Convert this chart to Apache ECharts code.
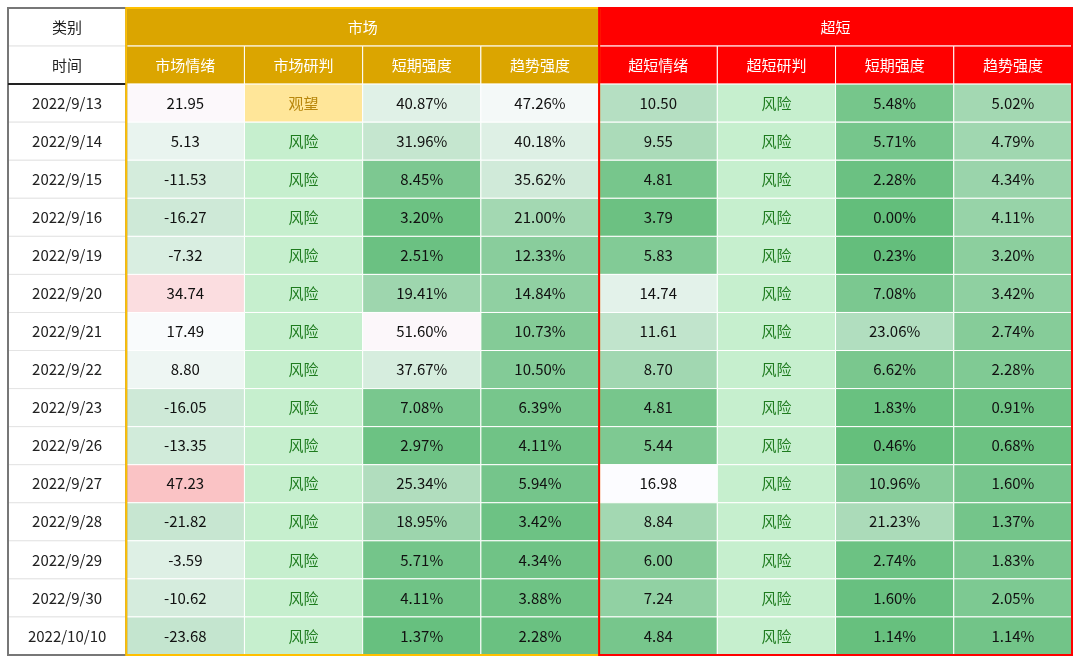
<!DOCTYPE html>
<html lang="zh">
<head>
    <meta charset="UTF-8">
    <title>市场 / 超短</title>
    <script src="https://cdn.jsdelivr.net/npm/echarts@6/dist/echarts.min.js"></script>
    <style>body{margin:0;background:#fff}</style>
</head>
<body>
    <div id="main" style="width:1080px;height:663px;"></div>
    <script type="text/javascript">
        // 数据
        var dates = ['2022/9/13','2022/9/14','2022/9/15','2022/9/16','2022/9/19','2022/9/20','2022/9/21','2022/9/22','2022/9/23','2022/9/26','2022/9/27','2022/9/28','2022/9/29','2022/9/30','2022/10/10'];
        var mktSent = [21.95,5.13,-11.53,-16.27,-7.32,34.74,17.49,8.80,-16.05,-13.35,47.23,-21.82,-3.59,-10.62,-23.68];
        var mktJudge = ['观望','风险','风险','风险','风险','风险','风险','风险','风险','风险','风险','风险','风险','风险','风险'];
        var mktShort = [40.87,31.96,8.45,3.20,2.51,19.41,51.60,37.67,7.08,2.97,25.34,18.95,5.71,4.11,1.37];
        var mktTrend = [47.26,40.18,35.62,21.00,12.33,14.84,10.73,10.50,6.39,4.11,5.94,3.42,4.34,3.88,2.28];
        var ssSent = [10.50,9.55,4.81,3.79,5.83,14.74,11.61,8.70,4.81,5.44,16.98,8.84,6.00,7.24,4.84];
        var ssJudge = ['风险','风险','风险','风险','风险','风险','风险','风险','风险','风险','风险','风险','风险','风险','风险'];
        var ssShort = [5.48,5.71,2.28,0.00,0.23,7.08,23.06,6.62,1.83,0.46,10.96,21.23,2.74,1.60,1.14];
        var ssTrend = [5.02,4.79,4.34,4.11,3.20,3.42,2.74,2.28,0.91,0.68,1.60,1.37,1.83,2.05,1.14];
        var groups = ['市场','超短'];
        var subHeads = ['市场情绪','市场研判','短期强度','趋势强度','超短情绪','超短研判','短期强度','趋势强度'];

        // 色阶 [低, 中, 高]
        var scales = {1:[-100,20,90],3:[0,50,100],4:[0,50,100],5:[3,17,40],7:[0,45,90],8:[0,12,30]};
        function mix(a, b, t) {
            t = Math.max(0, Math.min(1, t));
            return 'rgb(' + [0,1,2].map(function (i) { return Math.round(a[i] + (b[i]-a[i]) * t); }).join(',') + ')';
        }
        var GREEN = [99,190,123], WHITE = [252,252,255], RED = [248,105,107];
        function scaleColor(col, v) {
            var s = scales[col];
            if (v <= s[1]) return mix(WHITE, GREEN, (s[1]-v)/(s[1]-s[0]));
            return mix(WHITE, RED, (v-s[1])/(s[2]-s[1]));
        }

        var cells = [];
        // 表头
        cells.push({value:[0,0], text:'类别', span:1, bg:'#fff', fg:'#222'});
        cells.push({value:[1,0], text:groups[0], span:4, bg:'#DBA500', fg:'#fff'});
        cells.push({value:[5,0], text:groups[1], span:4, bg:'#FF0000', fg:'#fff'});
        cells.push({value:[0,1], text:'时间', span:1, bg:'#fff', fg:'#222'});
        subHeads.forEach(function (h, i) {
            cells.push({value:[i+1,1], text:h, span:1, bg: i < 4 ? '#DBA500' : '#FF0000', fg:'#fff'});
        });
        var cols = [mktSent, mktJudge, mktShort, mktTrend, ssSent, ssJudge, ssShort, ssTrend];
        dates.forEach(function (d, r) {
            cells.push({value:[0,r+2], text:d, span:1, bg:'#fff', fg:'#222'});
            cols.forEach(function (arr, c) {
                var col = c + 1, v = arr[r];
                if (typeof v === 'string') {
                    var watch = v === '观望';
                    cells.push({value:[col,r+2], text:v, span:1, bg: watch ? '#FFE699' : '#C6EFCE', fg: watch ? '#B8860B' : '#1E7B1E'});
                } else {
                    var pct = (col === 3 || col === 4 || col === 7 || col === 8);
                    cells.push({value:[col,r+2], text: v.toFixed(2) + (pct ? '%' : ''), span:1, bg: scaleColor(col, v), fg:'#111'});
                }
            });
        });

        var rowCats = [];
        for (var i = 0; i < 17; i++) rowCats.push(String(i));

        var myChart = echarts.init(document.getElementById('main'));
        var option = {
            animation: false,
            grid: {left: 8, right: 8, top: 8, bottom: 8},
            xAxis: {type: 'category', data: ['0','1','2','3','4','5','6','7','8'], show: false},
            yAxis: {type: 'category', data: rowCats, inverse: true, show: false},
            series: [{
                type: 'custom',
                data: cells,
                renderItem: function (params, api) {
                    var item = cells[params.dataIndex];
                    var p = api.coord([api.value(0), api.value(1)]);
                    var sz = api.size([1, 1]);
                    var w = sz[0] * item.span, h = sz[1];
                    var x = p[0] - sz[0] / 2, y = p[1] - h / 2;
                    return {
                        type: 'group',
                        children: [{
                            type: 'rect',
                            shape: {x: x, y: y, width: w, height: h},
                            style: {fill: item.bg, stroke: api.value(0) === 0 ? '#e4e4e4' : '#ffffff', lineWidth: 1}
                        }, {
                            type: 'text',
                            style: {x: x + w / 2, y: y + h / 2, text: item.text, fill: item.fg,
                                font: '15px "Noto Sans CJK SC"', align: 'center', verticalAlign: 'middle'}
                        }]
                    };
                }
            }, {
                // 分组外框
                type: 'custom',
                data: [[0], [1], [2]],
                z: 5,
                renderItem: function (params, api) {
                    var sz = api.size([1, 1]);
                    var top = api.coord([0, 0])[1] - sz[1] / 2;
                    var H = sz[1] * 17;
                    var left0 = api.coord([0, 0])[0] - sz[0] / 2;
                    var i = params.dataIndex;
                    if (i === 0) {
                        return {type: 'group', children: [
                            {type: 'rect', shape: {x: left0, y: top, width: sz[0], height: H}, style: {fill: 'none', stroke: '#777', lineWidth: 2}},
                            {type: 'line', shape: {x1: left0, y1: top + sz[1] * 2, x2: left0 + sz[0], y2: top + sz[1] * 2}, style: {stroke: '#222', lineWidth: 2}}
                        ]};
                    }
                    var x = left0 + sz[0] * (i === 1 ? 1 : 5);
                    return {type: 'rect', shape: {x: x, y: top, width: sz[0] * 4, height: H},
                        style: {fill: 'none', stroke: i === 1 ? '#FFC000' : '#FF0000', lineWidth: 2}};
                }
            }]
        };
        myChart.setOption(option);
    </script>
</body>
</html>
